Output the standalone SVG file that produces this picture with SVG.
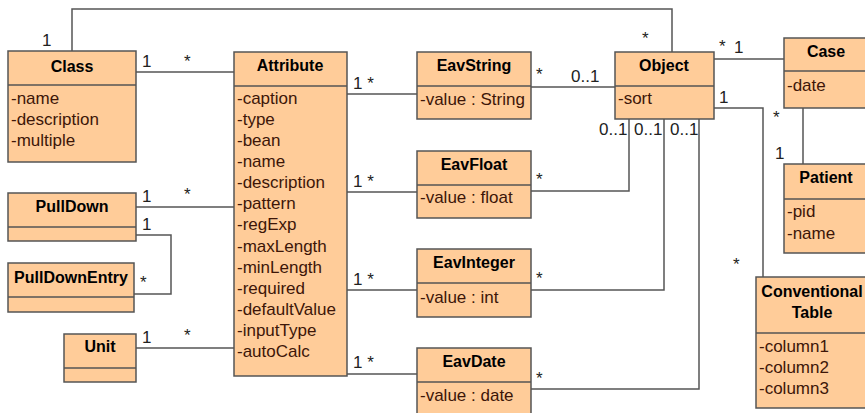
<svg xmlns="http://www.w3.org/2000/svg" width="865" height="413" viewBox="0 0 865 413">
<style>
.box{fill:#FFCC99;stroke:#555;stroke-width:1.5}
.sep{stroke:#555;stroke-width:1.5}
.t{font-family:"Liberation Sans",Arial,sans-serif;font-weight:bold;font-size:16px;fill:#000;text-anchor:middle}
.a{font-family:"Liberation Sans",Arial,sans-serif;font-size:17px;fill:#3d1608}
.m{font-family:"Liberation Sans",Arial,sans-serif;font-size:17px;fill:#222}
.c{fill:none;stroke:#555;stroke-width:1.5}
</style>
<rect width="865" height="413" fill="#fff"/>
<g id="connectors">
<polyline class="c" points="72,51 72,9 672,9 672,52"/>
<line class="c" x1="136" y1="72" x2="234" y2="72"/>
<line class="c" x1="136" y1="207" x2="234" y2="207"/>
<polyline class="c" points="136,235 171,235 171,294 134,294"/>
<line class="c" x1="136" y1="348" x2="234" y2="348"/>
<line class="c" x1="347" y1="94" x2="417" y2="94"/>
<line class="c" x1="347" y1="192" x2="417" y2="192"/>
<line class="c" x1="347" y1="290" x2="417" y2="290"/>
<line class="c" x1="347" y1="374" x2="417" y2="374"/>
<line class="c" x1="531" y1="87" x2="615" y2="87"/>
<polyline class="c" points="531,191 629,191 629,119"/>
<polyline class="c" points="531,290 664,290 664,119"/>
<polyline class="c" points="531,389 699,389 699,119"/>
<line class="c" x1="714" y1="59" x2="784" y2="59"/>
<polyline class="c" points="714,108 763,108 763,277"/>
<line class="c" x1="803" y1="108" x2="803" y2="164"/>
<text class="m" x="42" y="46">1</text>
<text class="m" x="142" y="67">1</text>
<text class="m" x="184" y="67">*</text>
<text class="m" x="642" y="44">*</text>
<text class="m" x="142" y="202">1</text>
<text class="m" x="184" y="200">*</text>
<text class="m" x="142" y="230">1</text>
<text class="m" x="140" y="288">*</text>
<text class="m" x="142" y="343">1</text>
<text class="m" x="184" y="341">*</text>
<text class="m" x="353" y="89">1 *</text>
<text class="m" x="353" y="187">1 *</text>
<text class="m" x="353" y="285">1 *</text>
<text class="m" x="353" y="368">1 *</text>
<text class="m" x="536" y="80">*</text>
<text class="m" x="571" y="82">0..1</text>
<text class="m" x="536" y="185">*</text>
<text class="m" x="536" y="284">*</text>
<text class="m" x="536" y="384">*</text>
<text class="m" x="599" y="135">0..1</text>
<text class="m" x="634" y="135">0..1</text>
<text class="m" x="670" y="135">0..1</text>
<text class="m" x="719" y="52">*</text>
<text class="m" x="734" y="53">1</text>
<text class="m" x="719" y="103">1</text>
<text class="m" x="773" y="123">*</text>
<text class="m" x="775" y="159">1</text>
<text class="m" x="733" y="270">*</text>
</g>
<g id="Class">
<rect class="box" x="8" y="51" width="128" height="111"/>
<line class="sep" x1="8" y1="85" x2="136" y2="85"/>
<text class="t" x="72" y="72">Class</text>
<text class="a" x="11" y="104">-name</text>
<text class="a" x="11" y="125">-description</text>
<text class="a" x="11" y="146">-multiple</text>
</g>
<g id="PullDown">
<rect class="box" x="8" y="193" width="128" height="48"/>
<line class="sep" x1="8" y1="227" x2="136" y2="227"/>
<text class="t" x="72" y="212">PullDown</text>
</g>
<g id="PullDownEntry">
<rect class="box" x="8" y="263" width="126" height="49"/>
<line class="sep" x1="8" y1="297" x2="134" y2="297"/>
<text class="t" x="71" y="283">PullDownEntry</text>
</g>
<g id="Unit">
<rect class="box" x="64" y="334" width="72" height="48"/>
<line class="sep" x1="64" y1="368" x2="136" y2="368"/>
<text class="t" x="100" y="352">Unit</text>
</g>
<g id="Attribute">
<rect class="box" x="234" y="52" width="113" height="324"/>
<line class="sep" x1="234" y1="86" x2="347" y2="86"/>
<text class="t" x="290" y="71">Attribute</text>
<text class="a" x="237" y="104">-caption</text>
<text class="a" x="237" y="125">-type</text>
<text class="a" x="237" y="146">-bean</text>
<text class="a" x="237" y="167">-name</text>
<text class="a" x="237" y="188">-description</text>
<text class="a" x="237" y="209">-pattern</text>
<text class="a" x="237" y="230">-regExp</text>
<text class="a" x="237" y="252">-maxLength</text>
<text class="a" x="237" y="273">-minLength</text>
<text class="a" x="237" y="294">-required</text>
<text class="a" x="237" y="315">-defaultValue</text>
<text class="a" x="237" y="336">-inputType</text>
<text class="a" x="237" y="357">-autoCalc</text>
</g>
<g id="EavString">
<rect class="box" x="417" y="52" width="114" height="67"/>
<line class="sep" x1="417" y1="86" x2="531" y2="86"/>
<text class="t" x="474" y="71">EavString</text>
<text class="a" x="420" y="105">-value : String</text>
</g>
<g id="EavFloat">
<rect class="box" x="417" y="151" width="114" height="67"/>
<line class="sep" x1="417" y1="185" x2="531" y2="185"/>
<text class="t" x="474" y="170">EavFloat</text>
<text class="a" x="420" y="203">-value : float</text>
</g>
<g id="EavInteger">
<rect class="box" x="417" y="249" width="114" height="68"/>
<line class="sep" x1="417" y1="283" x2="531" y2="283"/>
<text class="t" x="474" y="268">EavInteger</text>
<text class="a" x="420" y="303">-value : int</text>
</g>
<g id="EavDate">
<rect class="box" x="417" y="348" width="114" height="70"/>
<line class="sep" x1="417" y1="382" x2="531" y2="382"/>
<text class="t" x="474" y="367">EavDate</text>
<text class="a" x="420" y="401">-value : date</text>
</g>
<g id="Object">
<rect class="box" x="615" y="52" width="99" height="67"/>
<line class="sep" x1="615" y1="86" x2="714" y2="86"/>
<text class="t" x="664" y="71">Object</text>
<text class="a" x="618" y="104">-sort</text>
</g>
<g id="Case">
<rect class="box" x="784" y="38" width="86" height="70"/>
<line class="sep" x1="784" y1="71" x2="870" y2="71"/>
<text class="t" x="826" y="57">Case</text>
<text class="a" x="787" y="91">-date</text>
</g>
<g id="Patient">
<rect class="box" x="784" y="164" width="86" height="89"/>
<line class="sep" x1="784" y1="199" x2="870" y2="199"/>
<text class="t" x="826" y="183">Patient</text>
<text class="a" x="787" y="217">-pid</text>
<text class="a" x="787" y="239">-name</text>
</g>
<g id="ConventionalTable">
<rect class="box" x="756" y="277" width="114" height="131"/>
<line class="sep" x1="756" y1="333" x2="870" y2="333"/>
<text class="t" x="812" y="297">Conventional</text>
<text class="t" x="812" y="318">Table</text>
<text class="a" x="759" y="352">-column1</text>
<text class="a" x="759" y="373">-column2</text>
<text class="a" x="759" y="394">-column3</text>
</g>
</svg>
